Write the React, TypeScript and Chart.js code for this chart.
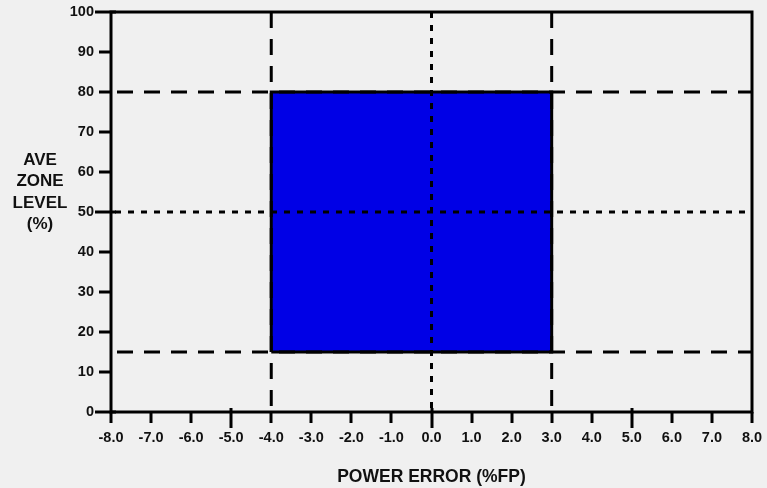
import React, { useEffect, useRef } from 'react';
import { Chart, registerables } from 'chart.js';

Chart.register(...registerables);

// ---- data ----
const xMin = -8;
const xMax = 8;
const yMin = 0;
const yMax = 100;
const xTickValues = [-8, -7, -6, -5, -4, -3, -2, -1, 0, 1, 2, 3, 4, 5, 6, 7, 8];
const yTickValues = [0, 10, 20, 30, 40, 50, 60, 70, 80, 90, 100];
const xMajorTicks = [-5, 0, 5];
const yMajorTicks = [0, 50, 100];
const powerErrorLimits = [-4, 3]; // dashed vertical limits (%FP)
const levelLimits = [15, 80]; // dashed horizontal limits (%)
const powerErrorCenter = [0]; // dotted vertical line
const levelCenter = [50]; // dotted horizontal line
const yTitleLines = ['AVE', 'ZONE', 'LEVEL', '(%)'];
const xTitle = 'POWER ERROR (%FP)';

const FONT = '"Liberation Sans", Arial, Helvetica, sans-serif';
const BLUE = 'rgb(0,0,230)';
const INK = '#000000';

const framePlugin = {
  id: 'frameAndTitles',
  afterDraw(chart: any) {
    const { ctx, chartArea, scales } = chart;
    const xs = scales.x;
    const ys = scales.y;
    ctx.save();
    ctx.strokeStyle = INK;
    ctx.lineWidth = 3;
    ctx.lineCap = 'butt';
    // frame
    ctx.strokeRect(chartArea.left, chartArea.top, chartArea.right - chartArea.left, chartArea.bottom - chartArea.top);
    // x ticks
    xTickValues.forEach((v) => {
      const px = Math.round(xs.getPixelForValue(v));
      const major = xMajorTicks.includes(v);
      ctx.beginPath();
      ctx.moveTo(px, chartArea.bottom - (major ? 4 : 0));
      ctx.lineTo(px, chartArea.bottom + (major ? 16 : 11));
      ctx.stroke();
    });
    // y ticks
    yTickValues.forEach((v) => {
      const py = Math.round(ys.getPixelForValue(v));
      const major = yMajorTicks.includes(v);
      ctx.beginPath();
      ctx.moveTo(chartArea.left - (major ? 16 : 12), py);
      ctx.lineTo(chartArea.left + (major ? 5 : 0), py);
      ctx.stroke();
    });
    // titles
    ctx.fillStyle = '#111';
    ctx.textAlign = 'center';
    ctx.textBaseline = 'middle';
    ctx.font = `bold 17px ${FONT}`;
    yTitleLines.forEach((t, i) => {
      ctx.fillText(t, 40, 160 + i * 21.5);
    });
    ctx.font = `bold 17.5px ${FONT}`;
    ctx.fillText(xTitle, (chartArea.left + chartArea.right) / 2, 477);
    ctx.restore();
  },
};

export default function App() {
  const ref = useRef<HTMLCanvasElement | null>(null);

  useEffect(() => {
    if (!ref.current) return;
    const [xl, xr] = powerErrorLimits;
    const [yb, yt] = levelLimits;
    const dashed = [16, 11];
    const dotted = [6, 7];
    const lineBase = {
      type: 'line' as const,
      showLine: true,
      pointRadius: 0,
      borderColor: INK,
      borderWidth: 3,
      fill: false,
      tension: 0,
    };
    const datasets: any[] = [
      {
        ...lineBase,
        label: 'zone',
        data: [
          { x: xl, y: yb },
          { x: xr, y: yb },
          { x: xr, y: yt },
          { x: xl, y: yt },
          { x: xl, y: yb },
        ],
        fill: 'shape',
        backgroundColor: BLUE,
        order: 10,
      },
      ...powerErrorLimits.map((v) => ({
        ...lineBase,
        label: 'pe' + v,
        data: [{ x: v, y: yMin }, { x: v, y: yMax }],
        borderDash: dashed,
        borderDashOffset: 21,
        order: 2,
      })),
      ...levelLimits.map((v) => ({
        ...lineBase,
        label: 'lv' + v,
        data: [{ x: xMin, y: v }, { x: xMax, y: v }],
        borderDash: dashed,
        borderDashOffset: 21,
        order: 2,
      })),
      ...powerErrorCenter.map((v) => ({
        ...lineBase,
        label: 'pc' + v,
        data: [{ x: v, y: yMin }, { x: v, y: yMax }],
        borderDash: dotted,
        borderDashOffset: 9,
        order: 1,
      })),
      ...levelCenter.map((v) => ({
        ...lineBase,
        label: 'lc' + v,
        data: [{ x: xMin, y: v }, { x: xMax, y: v }],
        borderDash: dotted,
        borderDashOffset: 9,
        order: 1,
      })),
    ];

    const chart = new Chart(ref.current, {
      type: 'scatter',
      data: { datasets },
      options: {
        animation: false,
        responsive: false,
        events: [],
        layout: { padding: { left: 0, right: 15, top: 12, bottom: 0 } },
        plugins: { legend: { display: false }, tooltip: { enabled: false } },
        scales: {
          x: {
            type: 'linear',
            min: xMin,
            max: xMax,
            afterBuildTicks: (s: any) => {
              s.ticks = xTickValues.map((v) => ({ value: v }));
            },
            afterFit: (s: any) => {
              s.height = 76;
              s.paddingLeft = 0;
              s.paddingRight = 0;
              s.paddingTop = 0;
              s.paddingBottom = 0;
            },
            grid: { display: false, drawTicks: false },
            border: { display: false },
            ticks: {
              padding: 17,
              color: '#111',
              font: { family: FONT, size: 14.5, weight: 'bold' },
              maxRotation: 0,
              autoSkip: false,
              callback: (v: any) => Number(v).toFixed(1),
            },
          },
          y: {
            type: 'linear',
            min: yMin,
            max: yMax,
            afterBuildTicks: (s: any) => {
              s.ticks = yTickValues.map((v) => ({ value: v }));
            },
            afterFit: (s: any) => {
              s.width = 111;
              s.paddingLeft = 0;
              s.paddingRight = 0;
              s.paddingTop = 0;
              s.paddingBottom = 0;
            },
            grid: { display: false, drawTicks: false },
            border: { display: false },
            ticks: {
              padding: 17,
              color: '#111',
              font: { family: FONT, size: 14.5, weight: 'bold' },
              autoSkip: false,
              callback: (v: any) => String(v),
            },
          },
        },
      },
      plugins: [framePlugin],
    } as any);
    return () => chart.destroy();
  }, []);

  return (
    <div
      style={{
        position: 'absolute',
        left: 0,
        top: 0,
        width: 767,
        height: 488,
        background: '#f0f0f0',
      }}
    >
      <canvas ref={ref} width={767} height={488} style={{ display: 'block' }} />
    </div>
  );
}
